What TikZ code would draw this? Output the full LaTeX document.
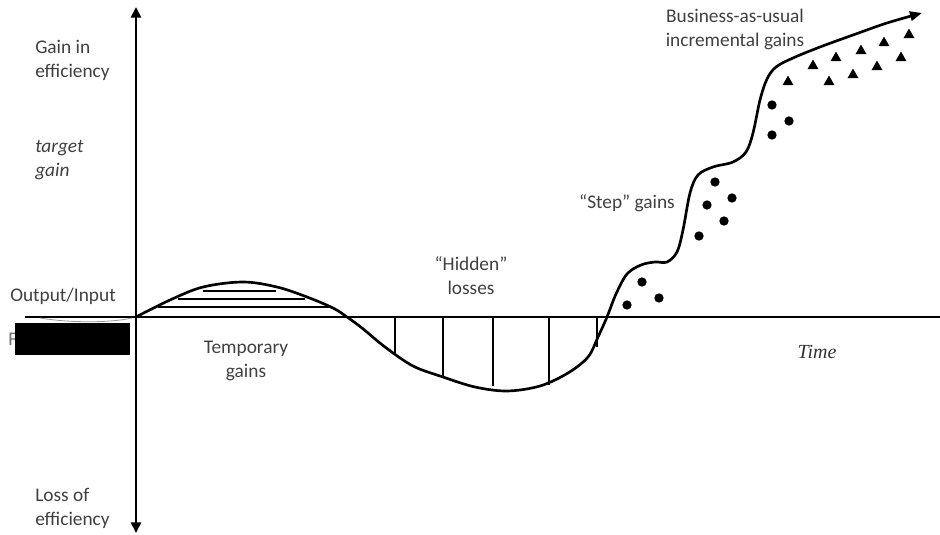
\documentclass[tikz,border=0pt]{standalone}
\usepackage{fontspec}
\setmainfont{Carlito}
\newfontfamily\timefont{Liberation Serif}
\usetikzlibrary{arrows.meta,shapes.geometric}
\tikzset{
  axisline/.style={line width=2.2pt},
  curveline/.style={line width=2pt},
  hatchline/.style={line width=1.6pt},
  barline/.style={line width=2.1pt},
  lbl/.style={inner sep=0pt, font=\fontsize{14.5}{18}\selectfont, text=black!75},
  dotmark/.style={circle, fill=black, inner sep=0pt, minimum size=7pt},
  trimark/.style={regular polygon, regular polygon sides=3, fill=black, inner sep=0pt, minimum size=9.6pt},
}
\begin{document}
\begin{tikzpicture}[x=0.75pt,y=-0.75pt]
\useasboundingbox (0,0) rectangle (940,535);
% axes
\coordinate (vtop) at (136,7);
\coordinate (vbot) at (136,533);
\coordinate (hl) at (25,317);
\coordinate (hr) at (940,317);
\coordinate (o) at (136,317);
\draw[axisline,{Triangle[length=8pt,width=7.5pt]}-{Triangle[length=8pt,width=7.5pt]}] (vtop) -- (vbot);
\draw[axisline] (hl) -- (hr);
\draw[black!40, line width=0.6pt] (40,318) .. controls (70,323) and (110,323) .. (132,318);
% hidden label behind box
\node[lbl, anchor=west, text=black!55] (fchar) at (8,339) {F};
\node[fill=black, inner sep=0pt, minimum width=86.25pt, minimum height=24pt, anchor=north west] (box) at (15,323) {};
% temporary gains bars
\draw[barline] (203,291) -- (276,291);
\draw[barline] (178,299) -- (305,299);
\draw[barline] (158,307) -- (331,307);
% hidden losses bars
\draw[hatchline] (395,317) -- (395,353);
\draw[hatchline] (443,317) -- (443,377);
\draw[hatchline] (493,317) -- (493,386);
\draw[hatchline] (549,317) -- (549,385);
\draw[hatchline] (597,317) -- (597,347);
% main curve
\draw[curveline, -{Triangle[length=9pt,width=7pt]}] plot[smooth, tension=0.55] coordinates {
 (136,317) (170,300) (203,287) (243,282) (277,287) (307,297) (333,308) (347,317)
 (362,328) (385,347) (413,366) (443,377) (475,387) (507,391) (540,386) (568,373)
 (588,357) (598,337) (607,317) (616,294) (627,274) (641,265) (655,262) (667,262)
 (677,252) (683,230) (690,193) (698,175) (713,167) (733,162) (746,152) (753,133)
 (760,100) (767,79) (776,67) (793,58) (820,47) (853,35) (887,23) (922,13)};
% dots
\foreach \px/\py [count=\i] in {627/305, 642/282, 659/298, 699/236, 707/205, 715/182, 724/221, 732/198, 772/105, 789/121, 772/135}
  \node[dotmark] (d\i) at (\px,\py) {};
% triangles
\foreach \px/\py [count=\i] in {788/82, 813/66, 836/58, 861/51, 884/43, 909/35, 829/82, 853/75, 877/67, 901/58}
  \node[trimark] (t\i) at (\px,\py) {};
% labels
\node[lbl, anchor=west, align=left] (gain) at (35,60) {Gain in\\efficiency};
\node[lbl, anchor=west, align=left, font=\fontsize{14.5}{18}\selectfont\itshape] (target) at (35,160) {target\\gain};
\node[lbl, anchor=west] (oi) at (10,296) {Output/Input};
\node[lbl, align=center] (temp) at (246,361) {Temporary\\gains};
\node[lbl, align=center] (hidden) at (471,276) {``Hidden''\\losses};
\node[lbl] (step) at (627,203) {``Step'' gains};
\node[lbl, align=center] (bau) at (735,29) {Business-as-usual\\incremental gains};
\node[lbl, anchor=west, align=left] (loss) at (35,508) {Loss of\\efficiency};
\node[inner sep=0pt, font=\timefont\itshape\fontsize{15}{18}\selectfont, text=black!80] (time) at (817,352) {Time};
\end{tikzpicture}
\end{document}
